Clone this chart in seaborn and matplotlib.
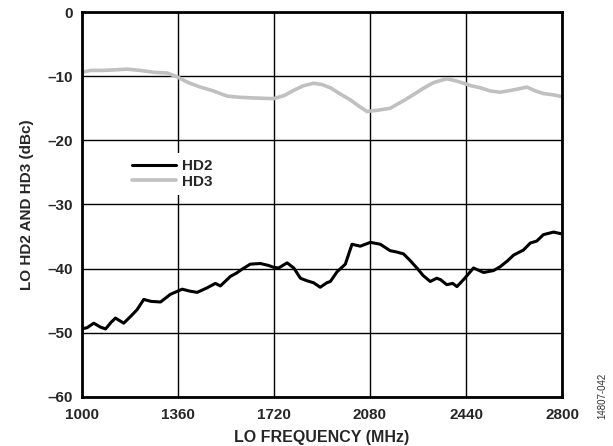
import pandas as pd
import seaborn as sns
import matplotlib.pyplot as plt

# LO frequency (MHz) and harmonic levels (dBc)
hd2_freq = [1000, 1021, 1046, 1070, 1090, 1110, 1127, 1158, 1185, 1208, 1233, 1260, 1296,
            1333, 1377, 1405, 1433, 1470, 1501, 1520, 1558, 1580, 1601, 1632, 1670, 1700,
            1720, 1738, 1770, 1795, 1820, 1845, 1869, 1894, 1919, 1932, 1957, 1988, 2013,
            2044, 2082, 2119, 2156, 2180, 2206, 2230, 2256, 2280, 2306, 2330, 2344, 2368,
            2390, 2406, 2431, 2468, 2506, 2543, 2568, 2595, 2618, 2655, 2681, 2705, 2730,
            2768, 2800]
hd2_dbc = [-49.4, -49.2, -48.5, -49.1, -49.4, -48.4, -47.7, -48.5, -47.4, -46.4, -44.8, -45.1,
           -45.2, -44.0, -43.2, -43.5, -43.7, -43.0, -42.3, -42.7, -41.2, -40.7, -40.1, -39.3,
           -39.2, -39.5, -39.8, -39.9, -39.1, -39.9, -41.5, -41.9, -42.2, -42.9, -42.2, -42.0,
           -40.5, -39.3, -36.2, -36.5, -35.9, -36.2, -37.2, -37.4, -37.7, -38.7, -39.9, -41.1,
           -42.0, -41.5, -41.7, -42.5, -42.3, -42.8, -41.7, -39.9, -40.6, -40.3, -39.7, -38.8,
           -37.9, -37.1, -36.0, -35.7, -34.7, -34.3, -34.6]

hd3_freq = [1000, 1034, 1080, 1130, 1171, 1220, 1271, 1320, 1358, 1400, 1445, 1494, 1545,
            1595, 1650, 1720, 1760, 1795, 1830, 1869, 1900, 1932, 1970, 2007, 2040, 2069,
            2110, 2156, 2190, 2231, 2280, 2318, 2368, 2400, 2431, 2460, 2493, 2530, 2568,
            2610, 2668, 2700, 2730, 2765, 2800]
hd3_dbc = [-9.4, -9.1, -9.1, -9.0, -8.9, -9.1, -9.4, -9.5, -10.1, -11.0, -11.7, -12.3, -13.1,
           -13.3, -13.4, -13.5, -13.0, -12.2, -11.5, -11.1, -11.3, -11.8, -12.8, -13.7, -14.7,
           -15.5, -15.3, -15.0, -14.2, -13.2, -11.9, -11.0, -10.4, -10.7, -11.1, -11.5, -11.8,
           -12.3, -12.5, -12.2, -11.7, -12.3, -12.7, -12.9, -13.2]

x_ticks = [1000, 1360, 1720, 2080, 2440, 2800]
y_ticks = [0, -10, -20, -30, -40, -50, -60]
y_labels = ['0', '–10', '–20', '–30', '–40', '–50', '–60']

sns.set_style("white")
plt.rcParams['font.family'] = ['Liberation Sans', 'DejaVu Sans']
plt.rcParams['font.weight'] = 'bold'

fig = plt.figure(figsize=(6.13, 4.46), dpi=100)
ax = fig.add_axes([0.133, 0.11, 0.784, 0.863])

df2 = pd.DataFrame({'freq': hd2_freq, 'dbc': hd2_dbc})
df3 = pd.DataFrame({'freq': hd3_freq, 'dbc': hd3_dbc})
sns.lineplot(data=df2, x='freq', y='dbc', color='black', lw=2.2, label='HD2', ax=ax)
sns.lineplot(data=df3, x='freq', y='dbc', color='#c0c0c0', lw=2.6, label='HD3', ax=ax)

ax.set_xlim(1000, 2800)
ax.set_ylim(-60, 0)
ax.set_xticks(x_ticks)
ax.set_yticks(y_ticks)
ax.set_yticklabels(y_labels)
ax.grid(True, color='black', lw=1)
ax.tick_params(axis='x', length=0, labelsize=11, pad=8)
ax.tick_params(axis='y', length=0, labelsize=11, pad=6)
for lab in ax.get_xticklabels() + ax.get_yticklabels():
    lab.set_fontweight('bold')
for s in ax.spines.values():
    s.set_linewidth(2)
    s.set_color('black')

ax.set_xlabel('LO FREQUENCY (MHz)', fontsize=11.5, fontweight='bold', labelpad=6)
ax.set_ylabel('LO HD2 AND HD3 (dBc)', fontsize=11, fontweight='bold', labelpad=10)

leg = ax.legend(loc='upper left', bbox_to_anchor=(0.092, 0.634), frameon=True,
                facecolor='white', edgecolor='none', framealpha=1, fancybox=False,
                fontsize=11, handlelength=2.9, handletextpad=0.4, labelspacing=0.1,
                borderaxespad=0, borderpad=0.4)
for t in leg.get_texts():
    t.set_fontweight('bold')

fig.text(0.982, 0.06, '14807-042', rotation=90, fontsize=7, color='#333333',
         fontweight='normal', ha='center', va='bottom')

fig.savefig('out.png', dpi=100)
